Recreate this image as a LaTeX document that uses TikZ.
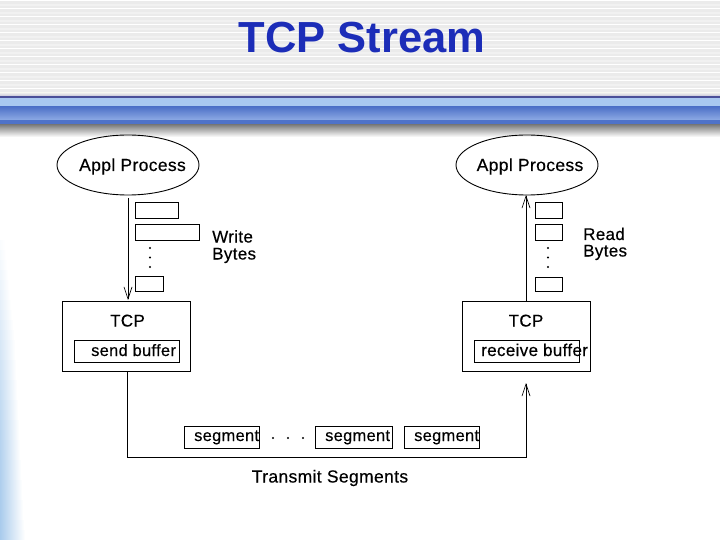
\documentclass[tikz,border=0pt]{standalone}
\usepackage{fontspec}
\setmainfont{Liberation Sans}
\newfontfamily\lblfont[LetterSpace=2,FakeBold=0.4]{Liberation Sans}
\usetikzlibrary{arrows.meta,shapes.geometric}
\definecolor{titleblue}{HTML}{1C2DB8}
\definecolor{stripe}{HTML}{EBEBEB}
\definecolor{bandtop}{HTML}{4A4F98}
\definecolor{bandfade}{HTML}{C8C6D8}
\definecolor{bandlight}{HTML}{A9C8F0}
\definecolor{bandmid}{HTML}{4F72C8}
\definecolor{bandpale}{HTML}{8DAAE4}
\definecolor{sidepale}{HTML}{A9CBEC}
\tikzset{
  x=1pt,y=-1pt,
  lbl/.style={inner sep=0pt,font=\fontsize{17}{18}\lblfont,text=black},
  lblsmall/.style={lbl,font=\fontsize{16.4}{18}\lblfont},
  lblwide/.style={lbl,font=\fontsize{17.5}{18}\lblfont},
  plainbox/.style={draw=black,line width=0.9pt,rectangle,inner sep=0pt},
  proc/.style={draw=black,line width=0.9pt,ellipse,inner sep=0pt,minimum width=142pt,minimum height=60pt},
  conn/.style={draw=black,line width=0.9pt},
  tip/.style={-{Straight Barb[length=12pt,width=8pt,line width=0.7pt]}},
  dotmark/.style={circle,fill=black,inner sep=0pt,minimum size=2.2pt},
}
\newcommand{\rbox}[6]{\node[#6] (#1) at ({(#2+#3)/2},{(#4+#5)/2}) [minimum width={(#3)-(#2)},minimum height={(#5)-(#4)}] {};}
\begin{document}
\begin{tikzpicture}
\useasboundingbox (0,0) rectangle (720,540);
% background
\fill[white] (0,0) rectangle (720,540);
\fill[stripe] (0,0) rectangle (720,93);
\foreach \yy in {0,8,16,...,88} \fill[white] (0,\yy) rectangle (720,\yy+1);
\foreach \yy in {4,12,...,84} \fill[white,opacity=0.3] (0,\yy) rectangle (720,\yy+2);
% side fade, widening towards the bottom
\foreach \yy/\k/\w in {240/6/5,250/10/6,260/14/7,270/18/8,280/22/9,290/26/10,300/30/11,310/34/12,320/38/13,330/42/14,340/46/15,350/50/15,360/54/16,370/58/16,380/62/17,390/66/17,400/70/18,410/74/18,420/78/19,430/82/19,440/85/20,450/88/20,460/90/21,470/92/21,480/94/22,490/96/22,500/98/23,510/100/23,520/100/24,530/100/25}
  \fill[left color=sidepale!\k!white,right color=white] (0,\yy) rectangle (\w,\yy+10.2);
% band
\fill[top color=stripe,bottom color=bandfade] (0,93) rectangle (720,96);
\fill[bandtop] (0,96) rectangle (720,98);
\fill[bandlight] (0,98) rectangle (720,107);
\fill[top color=bandmid,bottom color=bandpale] (0,107) rectangle (720,120);
\fill[bandmid] (0,120) rectangle (720,124.5);
\fill[top color=black!52,bottom color=white] (0,124.5) rectangle (720,137);
% title
\node[inner sep=0pt,text=titleblue,font=\fontsize{43.5}{44}\selectfont\bfseries] (title) at (362,38) {TCP Stream};
% processes
\node[proc] (p1) at (128,165) {};
\node[proc] (p2) at (527,165) {};
\node[lblwide,anchor=base] (p1t) at (132.5,171) {Appl Process};
\node[lblwide,anchor=base] (p2t) at (530,171) {Appl Process};
% TCP boxes
\rbox{t1}{62}{190}{301}{371}{plainbox}
\rbox{t2}{462}{590}{301}{371}{plainbox}
\node[lbl,anchor=base] (t1t) at (127.5,326.5) {TCP};
\node[lbl,anchor=base] (t2t) at (526,326.5) {TCP};
\rbox{sb}{74}{179}{340}{362}{plainbox}
\rbox{rb}{474}{579}{340}{362}{plainbox}
\node[lblsmall,anchor=base west] (sbt) at (91,356) {send buffer};
\node[lbl,anchor=base west] (rbt) at (481,356) {receive buffer};
% left bytes
\rbox{a1}{135}{178}{202}{218}{plainbox}
\rbox{a2}{135}{199}{224}{240}{plainbox}
\rbox{a3}{135}{163}{276}{291}{plainbox}
\node[dotmark] (ad1) at (150,248) {};
\node[dotmark] (ad2) at (150,257.5) {};
\node[dotmark] (ad3) at (150,267) {};
\node[lbl,anchor=base west] (wt) at (212,242.5) {Write};
\node[lbl,anchor=base west] (bt) at (212,259.5) {Bytes};
% right bytes
\rbox{b1}{535}{562}{202}{218}{plainbox}
\rbox{b2}{535}{562}{224}{240}{plainbox}
\rbox{b3}{535}{562}{277}{291}{plainbox}
\node[dotmark] (bd1) at (548,248) {};
\node[dotmark] (bd2) at (548,257.5) {};
\node[dotmark] (bd3) at (548,267) {};
\node[lbl,anchor=base west] (rt) at (583,240) {Read};
\node[lbl,anchor=base west] (rbyt) at (583,256.5) {Bytes};
% segments
\rbox{s1}{184}{259}{426}{448}{plainbox}
\rbox{s2}{315}{392}{426}{448}{plainbox}
\rbox{s3}{404}{479}{426}{448}{plainbox}
\node[lblsmall,anchor=base west] (s1t) at (194,441) {segment};
\node[lblsmall,anchor=base west] (s2t) at (325,441) {segment};
\node[lblsmall,anchor=base west] (s3t) at (414,441) {segment};
\node[dotmark] (sd1) at (273,438) {};
\node[dotmark] (sd2) at (288,438) {};
\node[dotmark] (sd3) at (303,438) {};
\node[lblwide,anchor=base] (tr) at (330,482.5) {Transmit Segments};
% connectors
\coordinate (c1) at (128,198);
\coordinate (c2) at (128,300);
\coordinate (c3) at (526,301);
\coordinate (c4) at (526,195);
\coordinate (c5) at (127,371);
\coordinate (c6) at (127,457);
\coordinate (c7) at (526,457);
\coordinate (c8) at (526,383);
\draw[conn,tip] (c1) -- (c2);
\draw[conn,tip] (c3) -- (c4);
\draw[conn,tip] (c5) -- (c6) -- (c7) -- (c8);
\end{tikzpicture}
\end{document}
